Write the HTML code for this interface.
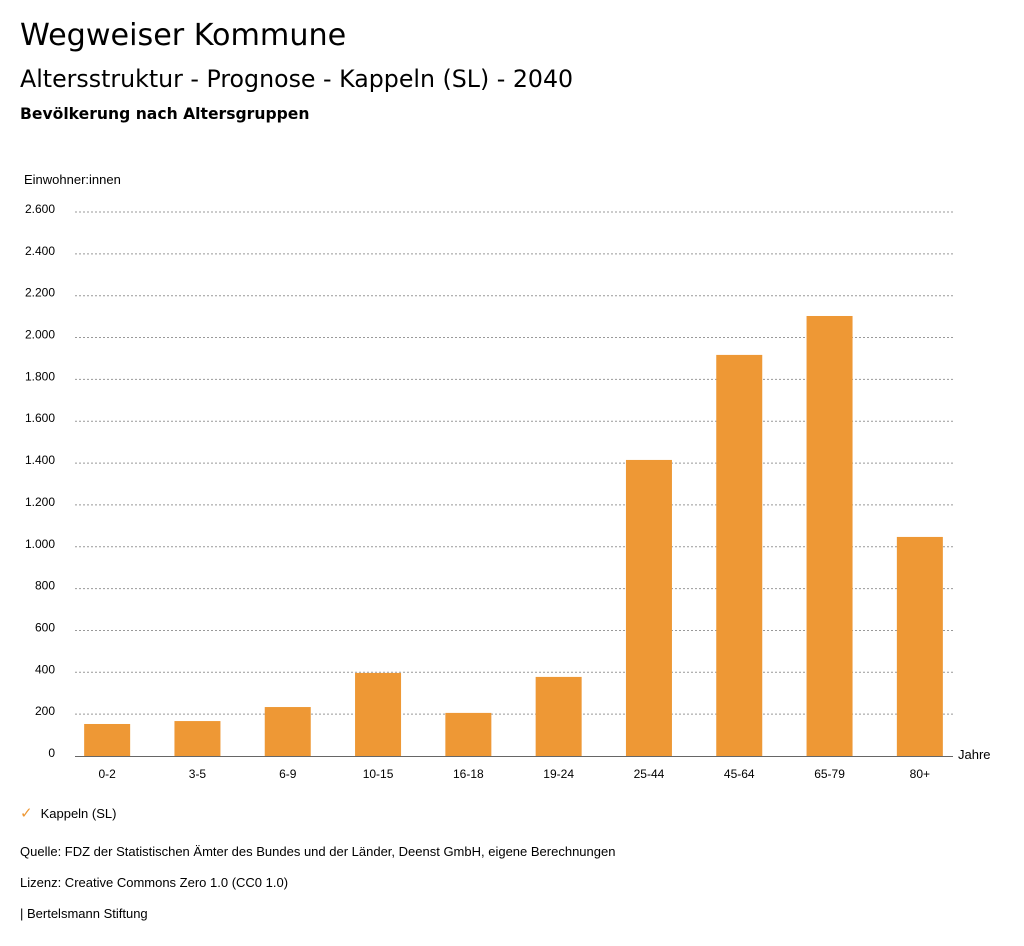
<!DOCTYPE html>
<html><head><meta charset="utf-8"><style>
body{margin:0;background:#fff;font-family:"Liberation Sans","DejaVu Sans",sans-serif;color:#000;}
#wrap{position:relative;width:1024px;height:946px;overflow:hidden}
.t{position:absolute;white-space:nowrap}
.d{font-family:"DejaVu Sans",sans-serif}
</style></head><body><div id="wrap">
<div class="t d" style="left:20px;top:18px;font-size:30.2px">Wegweiser Kommune</div>
<div class="t d" style="left:20px;top:65px;font-size:23.7px">Altersstruktur - Prognose - Kappeln (SL) - 2040</div>
<div class="t d" style="left:20px;top:105px;font-size:15.6px;font-weight:bold">Bevölkerung nach Altersgruppen</div>
<svg id="chart" width="1024" height="800" style="position:absolute;left:0;top:0"></svg>
<div class="t" style="left:20px;top:804px;font-size:13px"><span style="color:#ee9835;font-size:15px;margin-right:8px">✓</span>Kappeln (SL)</div>
<div class="t" style="left:20px;top:844px;font-size:13px">Quelle: FDZ der Statistischen Ämter des Bundes und der Länder, Deenst GmbH, eigene Berechnungen</div>
<div class="t" style="left:20px;top:875px;font-size:13px">Lizenz: Creative Commons Zero 1.0 (CC0 1.0)</div>
<div class="t" style="left:20px;top:906px;font-size:13px">| Bertelsmann Stiftung</div>
</div>
<script>
const categories=["0-2","3-5","6-9","10-15","16-18","19-24","25-44","45-64","65-79","80+"];
const values=[153,167,234,397,206,378,1415,1917,2103,1047];
const ticks=[0,200,400,600,800,1000,1200,1400,1600,1800,2000,2200,2400,2600];
const tickLabels=["0","200","400","600","800","1.000","1.200","1.400","1.600","1.800","2.000","2.200","2.400","2.600"];
const NS="http://www.w3.org/2000/svg",svg=document.getElementById('chart');
const y=v=>756-v*(544/2600);
const x=i=>62+90.3*i+45.15;
function mk(t,a,txt){const e=document.createElementNS(NS,t);for(const k in a)e.setAttribute(k,a[k]);if(txt!=null)e.textContent=txt;svg.appendChild(e);return e;}
let e=mk('text',{x:24,y:184,'font-size':13},'Einwohner:innen');


ticks.forEach((t,i)=>{
 if(t>0){const g=mk('line',{x1:75,x2:953,y1:y(t),y2:y(t),stroke:'#999','stroke-dasharray':'2,2','stroke-width':1});
 
 }
 const l=mk('text',{x:55,y:y(t)+1,'font-size':12,'text-anchor':'end'},tickLabels[i]);
 
 
});
const ax=mk('line',{x1:75,x2:953,y1:756.5,y2:756.5,stroke:'#666','stroke-width':1});


categories.forEach((c,i)=>{
 const b=mk('rect',{x:x(i)-23,y:y(values[i]),width:46,height:756-y(values[i]),fill:'#ee9835'});
 
 
 const l=mk('text',{x:x(i),y:778,'font-size':12,'text-anchor':'middle'},c);
 
 
});
e=mk('text',{x:958,y:759,'font-size':13},'Jahre');


</script></body></html>
